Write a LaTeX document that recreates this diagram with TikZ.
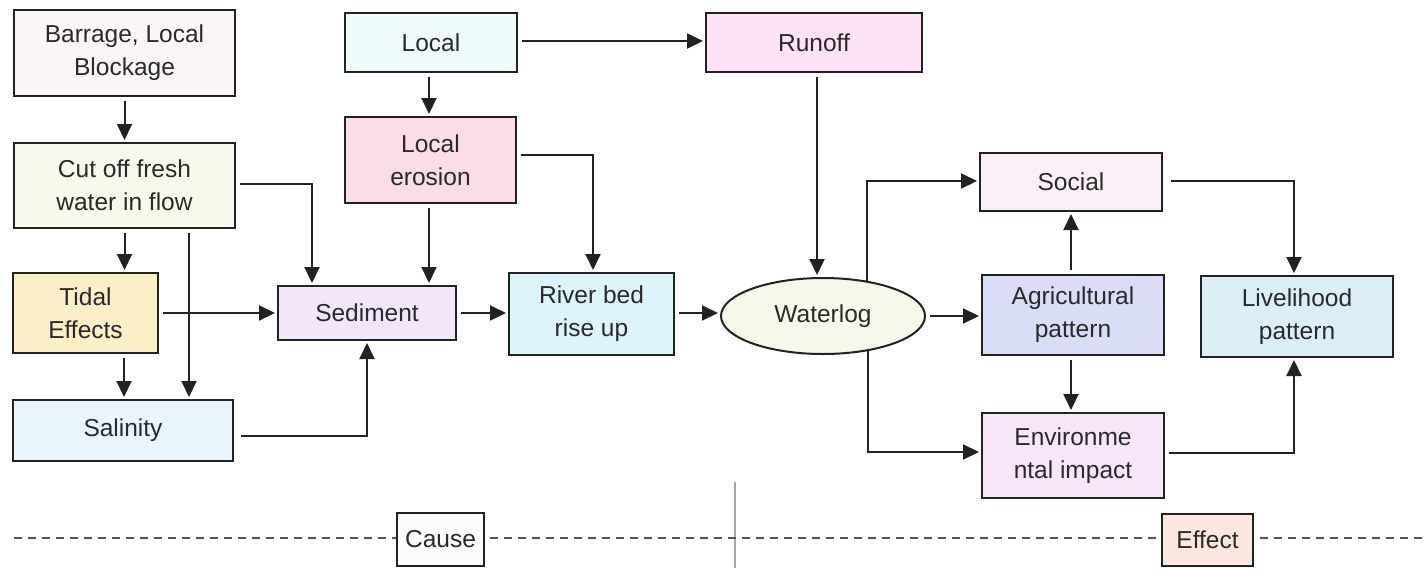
\documentclass[tikz,border=0pt]{standalone}
\usepackage{fontspec}
\setmainfont{Liberation Sans}
\usetikzlibrary{arrows.meta,shapes.geometric}
\definecolor{txt}{HTML}{2A2A2A}
\definecolor{edge}{HTML}{222222}
\definecolor{cBarrage}{HTML}{FBF6F6}
\definecolor{cCut}{HTML}{F6F9EC}
\definecolor{cTidal}{HTML}{FBEFC8}
\definecolor{cSal}{HTML}{EAF5FB}
\definecolor{cLocal}{HTML}{EEFAFC}
\definecolor{cEro}{HTML}{FADDE6}
\definecolor{cSed}{HTML}{F2E6FA}
\definecolor{cRun}{HTML}{FCE2F4}
\definecolor{cRiver}{HTML}{DDF5FA}
\definecolor{cWater}{HTML}{F6F8EC}
\definecolor{cSocial}{HTML}{FBF0F7}
\definecolor{cAgri}{HTML}{D9DDF6}
\definecolor{cEnv}{HTML}{F6E6F8}
\definecolor{cLive}{HTML}{DCEFF7}
\definecolor{cCause}{HTML}{FAFDFD}
\definecolor{cEffect}{HTML}{FCE6E0}
\definecolor{dash}{HTML}{555555}
\tikzset{
  box/.style={draw=edge, line width=2pt, rectangle, inner sep=0pt, align=center,
    text=txt, font=\fontsize{24.5}{33}\selectfont},
  oval/.style={box, ellipse},
  arr/.style={draw=edge, line width=2pt, -{Triangle[length=16pt,width=15pt]},
    shorten <=4pt, shorten >=2pt},
  divider/.style={draw=dash, line width=1.5pt, dash pattern=on 8pt off 6pt},
  vline/.style={draw=gray!70, line width=1.5pt}
}
\begin{document}
\begin{tikzpicture}[x=1pt,y=-1pt]
\useasboundingbox[fill=white] (0,0) rectangle (1427,568);

% nodes
\node[box, fill=cBarrage, minimum width=221pt, minimum height=86pt] (barrage) at (124.5,53) {Barrage, Local\\Blockage};
\node[box, fill=cCut, minimum width=221pt, minimum height=85pt] (cutoff) at (124.5,185.5) {Cut off fresh\\water in flow};
\node[box, fill=cLocal, minimum width=172pt, minimum height=59pt] (local) at (431,42.5) {Local};
\node[box, fill=cEro, minimum width=171pt, minimum height=86pt] (erosion) at (430.5,160) {Local\\erosion};
\node[box, fill=cRun, minimum width=216pt, minimum height=59pt] (runoff) at (814,42.5) {Runoff};
\node[box, fill=cTidal, minimum width=145pt, minimum height=80pt] (tidal) at (85.5,313) {Tidal\\Effects};
\node[box, fill=cSal, minimum width=220pt, minimum height=61pt] (salinity) at (123,430.5) {Salinity};
\node[box, fill=cSed, minimum width=178pt, minimum height=54pt] (sediment) at (367,313) {Sediment};
\node[box, fill=cRiver, minimum width=165pt, minimum height=82pt] (river) at (591.5,314) {River bed\\rise up};
\node[oval, fill=cWater, minimum width=204pt, minimum height=76pt] (waterlog) at (823,316) {Waterlog};
\node[box, fill=cSocial, minimum width=182pt, minimum height=58pt] (social) at (1071,182) {Social};
\node[box, fill=cAgri, minimum width=182pt, minimum height=80pt] (agri) at (1073,315) {Agricultural\\pattern};
\node[box, fill=cEnv, minimum width=182pt, minimum height=85pt] (env) at (1073,455.5) {Environme\\ntal impact};
\node[box, fill=cLive, minimum width=192pt, minimum height=81pt] (live) at (1297,316.5) {Livelihood\\pattern};

% divider
\coordinate (dl) at (14,538);
\coordinate (dr) at (1427,538);
\coordinate (vt) at (735,482);
\coordinate (vb) at (735,568);
\draw[vline] (vt) -- (vb);
\draw[divider] (dl) -- (dr);
\node[box, fill=cCause, minimum width=87pt, minimum height=53pt] (cause) at (440.5,539.5) {Cause};
\node[box, fill=cEffect, minimum width=91pt, minimum height=52pt] (effect) at (1207.5,540) {Effect};

% connectors
\draw[arr] (barrage.south) -- (cutoff.north);
\draw[arr] ([xshift=-2pt]local.south) -- ([xshift=-2pt]local.south |- erosion.north);
\draw[arr] ([yshift=1.5pt]local.east) -- ([yshift=1.5pt]runoff.west);
\draw[arr] ([yshift=1.5pt]cutoff.east) -| ([xshift=-55pt]sediment.north);
\draw[arr] (cutoff.south) -- (cutoff.south |- tidal.north);
\draw[arr] ([xshift=64.5pt]cutoff.south) -- ([xshift=64.5pt]cutoff.south |- salinity.north);
\draw[arr] ([xshift=-1.5pt]erosion.south) -- ([xshift=-1.5pt]erosion.south |- sediment.north);
\draw[arr] ([yshift=5pt]erosion.east) -| ([xshift=1.5pt]river.north);
\draw[arr] (tidal.east) -- (sediment.west);
\draw[arr] ([xshift=38.5pt]tidal.south) -- ([xshift=38.5pt]tidal.south |- salinity.north);
\draw[arr, shorten <=7pt] ([yshift=-5.5pt]salinity.east) -| (sediment.south);
\draw[arr] (sediment.east) -- (sediment.east -| river.west);
\draw[arr] ([yshift=1pt]river.east) -- ([yshift=1pt]river.east -| waterlog.west);
\draw[arr] ([xshift=3pt]runoff.south) -- ([xshift=3pt]runoff.south |- waterlog.north);
\draw[arr, shorten <=0pt] (waterlog.39.5) |- ([yshift=1pt]social.west);
\draw[arr] (waterlog.east) -- (waterlog.east -| agri.west);
\draw[arr, shorten <=0pt] (waterlog.-38) |- ([yshift=3.5pt]env.west);
\draw[arr] ([xshift=-2pt]agri.north) -- ([xshift=-2pt]agri.north |- social.south);
\draw[arr] ([xshift=-2pt]agri.south) -- ([xshift=-2pt]agri.south |- env.north);
\draw[arr, shorten <=8pt] ([yshift=1pt]social.east) -| ([xshift=-3pt]live.north);
\draw[arr] ([yshift=2.5pt]env.east) -| ([xshift=-3pt]live.south);
\end{tikzpicture}
\end{document}
